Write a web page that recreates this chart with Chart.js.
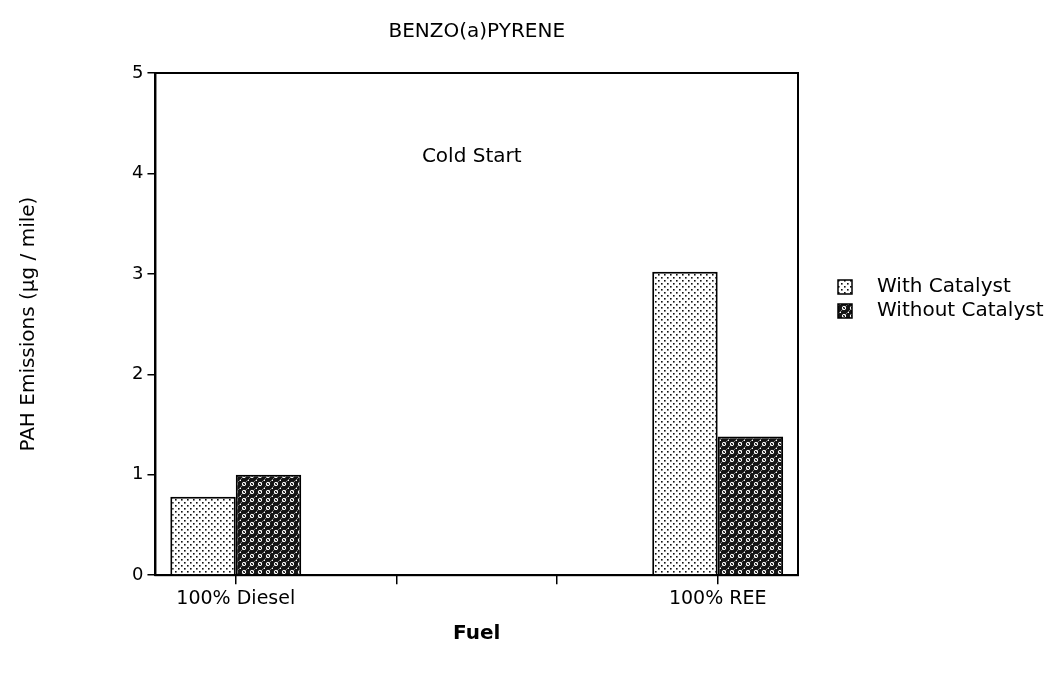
<!DOCTYPE html>
<html>
<head>
<meta charset="utf-8">
<script src="https://cdn.jsdelivr.net/npm/chart.js@4"></script>
<style>
  html, body { margin: 0; padding: 0; background: #fff; }
  #wrap { width: 1062px; height: 678px; }
</style>
</head>
<body>
<div id="wrap"><canvas id="chart"></canvas></div>
<script>
const categories = ["100% Diesel", "", "", "100% REE"];
const withCatalyst = [0.78, null, null, 3.02];
const withoutCatalyst = [1.0, null, null, 1.38];
const yTicks = [0, 1, 2, 3, 4, 5];

const canvas = document.getElementById("chart");
const ctx = canvas.getContext("2d");
const FONT = "'DejaVu Sans', sans-serif";

// light dotted fill
function dotPattern() {
    const c = document.createElement("canvas");
    c.width = 6; c.height = 6;
    const g = c.getContext("2d");
    g.fillStyle = "#fff";
    g.fillRect(0, 0, 6, 6);
    g.fillStyle = "#111";
    g.fillRect(1, 1, 1.6, 1.6);
    g.fillRect(4, 4, 1.6, 1.6);
    return ctx.createPattern(c, "repeat");
}

// dark cross hatch with small rings
function hatchPattern() {
    const c = document.createElement("canvas");
    c.width = 8; c.height = 8;
    const g = c.getContext("2d");
    g.fillStyle = "#141414";
    g.fillRect(0, 0, 8, 8);
    g.strokeStyle = "rgba(255,255,255,0.55)";
    g.lineWidth = 0.8;
    g.beginPath();
    g.moveTo(0, 8); g.lineTo(8, 0);
    g.stroke();
    g.strokeStyle = "#fff";
    g.lineWidth = 1;
    g.beginPath();
    g.arc(4, 4, 1.7, 0, Math.PI * 2);
    g.stroke();
    g.fillStyle = "#fff";
    g.fillRect(0, 0, 1, 1);
    return ctx.createPattern(c, "repeat");
}

const framePlugin = {
    id: "frame",
    afterDraw(chart) {
        const a = chart.chartArea;
        const c = chart.ctx;
        c.save();
        c.strokeStyle = "#000";
        c.lineWidth = 2;
        c.strokeRect(a.left, a.top, a.right - a.left, a.bottom - a.top);

        // note inside the plot
        c.fillStyle = "#000";
        c.font = "20px " + FONT;
        c.textAlign = "center";
        c.textBaseline = "middle";
        c.fillText("Cold Start", (a.left + a.right) / 2 - 5, chart.scales.y.getPixelForValue(4.17));

        // legend
        c.font = "20px " + FONT;
        c.textAlign = "left";
        chart.data.datasets.forEach((ds, i) => {
            const y = 287 + i * 24;
            const x = a.right + 40;
            c.fillStyle = ds.backgroundColor;
            c.fillRect(x, y - 7, 14, 14);
            c.lineWidth = 1.5;
            c.strokeRect(x, y - 7, 14, 14);
            c.fillStyle = "#000";
            c.fillText(ds.label, x + 39, y);
        });
        c.restore();
    }
};

new Chart(ctx, {
    type: "bar",
    data: {
        labels: categories,
        datasets: [
            {
                label: "With Catalyst",
                data: withCatalyst,
                backgroundColor: dotPattern(),
                borderColor: "#000",
                borderWidth: 2,
                categoryPercentage: 0.815,
                barPercentage: 1.0
            },
            {
                label: "Without Catalyst",
                data: withoutCatalyst,
                backgroundColor: hatchPattern(),
                borderColor: "#000",
                borderWidth: 2,
                categoryPercentage: 0.815,
                barPercentage: 1.0
            }
        ]
    },
    options: {
        responsive: true,
        maintainAspectRatio: false,
        animation: false,
        layout: {
            padding: { left: 10, right: 264, top: 8, bottom: 32 }
        },
        plugins: {
            legend: { display: false },
            tooltip: { enabled: false },
            title: {
                display: true,
                text: "BENZO(a)PYRENE",
                fullSize: false,
                color: "#000",
                font: { family: FONT, size: 20, weight: "normal" },
                padding: { top: 12, bottom: 29 }
            }
        },
        scales: {
            x: {
                offset: true,
                grid: {
                    offset: false,
                    drawOnChartArea: false,
                    tickLength: 9,
                    color: "#000",
                    lineWidth: 1.5
                },
                border: { color: "#000", width: 2 },
                ticks: {
                    color: "#000",
                    font: { family: FONT, size: 19 },
                    padding: 3,
                    maxRotation: 0,
                    autoSkip: false
                },
                title: {
                    display: true,
                    text: "Fuel",
                    color: "#000",
                    font: { family: FONT, size: 20, weight: "bold" },
                    padding: { top: 9, bottom: 0 }
                }
            },
            y: {
                min: 0,
                max: 5,
                afterBuildTicks: (s) => { s.ticks = yTicks.map(v => ({ value: v })); },
                grid: {
                    drawOnChartArea: false,
                    tickLength: 8,
                    color: "#000",
                    lineWidth: 1.5
                },
                border: { color: "#000", width: 2 },
                ticks: {
                    color: "#000",
                    font: { family: FONT, size: 18 },
                    padding: 4
                },
                title: {
                    display: true,
                    text: "PAH Emissions (µg / mile)",
                    color: "#000",
                    font: { family: FONT, size: 20 },
                    padding: { top: 7, bottom: 87 }
                }
            }
        }
    },
    plugins: [framePlugin]
});
</script>
</body>
</html>
